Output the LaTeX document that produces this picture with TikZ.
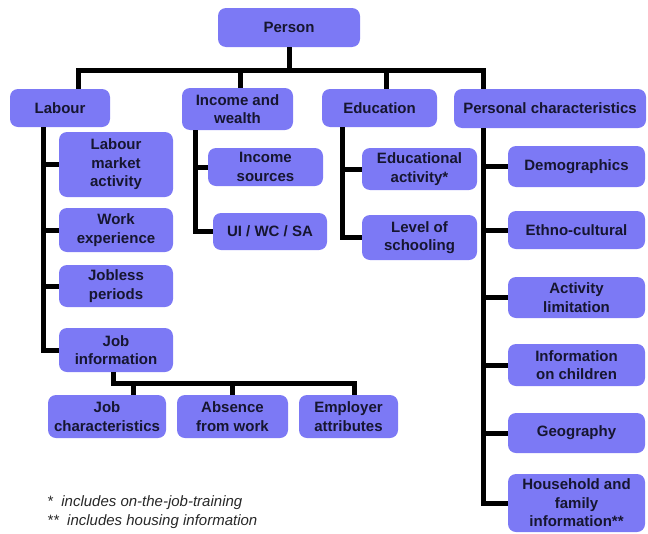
\documentclass[tikz,border=0pt]{standalone}
\usepackage{fontspec}
\setmainfont{Liberation Sans}
\definecolor{boxfill}{RGB}{124,121,245}
\definecolor{boxtext}{RGB}{22,22,48}
\definecolor{notetext}{RGB}{40,40,40}
\tikzset{
  box/.style={fill=boxfill, rounded corners=8pt, inner sep=0pt, align=center,
    text=boxtext, font=\fontsize{15}{18.5}\selectfont\bfseries},
  conn/.style={line width=5pt, black},
  note/.style={anchor=west, inner sep=0pt, text=notetext, font=\fontsize{15}{17}\selectfont\itshape}
}
\begin{document}
\begin{tikzpicture}[x=1pt,y=-1pt]
\useasboundingbox (0,0) rectangle (648,533);
% top level
\node[box, minimum width=142pt, minimum height=39pt] (person) at (289,27.5) {Person};
\node[box, minimum width=100pt, minimum height=38pt] (labour) at (60,108) {Labour};
\node[box, minimum width=111pt, minimum height=42pt] (income) at (237.5,109) {Income and\\wealth};
\node[box, minimum width=115pt, minimum height=38pt] (edu) at (379.5,108) {Education};
\node[box, minimum width=192pt, minimum height=39pt] (pc) at (550,108.5) {Personal characteristics};
% labour children
\node[box, minimum width=114pt, minimum height=65pt] (lma) at (116,164.5) {Labour\\market\\activity};
\node[box, minimum width=114pt, minimum height=44pt] (work) at (116,230) {Work\\experience};
\node[box, minimum width=114pt, minimum height=42pt] (jobless) at (116,286) {Jobless\\periods};
\node[box, minimum width=114pt, minimum height=44pt] (jobinfo) at (116,350) {Job\\information};
% job info children
\node[box, minimum width=118pt, minimum height=43pt] (jobchar) at (107,416.5) {Job\\characteristics};
\node[box, minimum width=111pt, minimum height=43pt] (absence) at (232.5,416.5) {Absence\\from work};
\node[box, minimum width=99pt, minimum height=43pt] (employer) at (348.5,416.5) {Employer\\attributes};
% income children
\node[box, minimum width=115pt, minimum height=38pt] (incsrc) at (265.5,167) {Income\\sources};
\node[box, minimum width=114pt, minimum height=37pt] (ui) at (270,231.5) {UI / WC / SA};
% education children
\node[box, minimum width=115pt, minimum height=42pt] (eduact) at (419.5,169) {Educational\\activity*};
\node[box, minimum width=115pt, minimum height=45pt] (level) at (419.5,237.5) {Level of\\schooling};
% personal characteristics children
\node[box, minimum width=137pt, minimum height=41pt] (demo) at (576.5,166.5) {Demographics};
\node[box, minimum width=137pt, minimum height=38pt] (ethno) at (576.5,230) {Ethno-cultural};
\node[box, minimum width=137pt, minimum height=41pt] (actlim) at (576.5,297.5) {Activity\\limitation};
\node[box, minimum width=137pt, minimum height=42pt] (infochild) at (576.5,365) {Information\\on children};
\node[box, minimum width=137pt, minimum height=40pt] (geo) at (576.5,433) {Geography};
\node[box, minimum width=137pt, minimum height=58pt] (household) at (576.5,503) {Household and\\family\\information**};
% coordinates
\coordinate (busL) at (78,70);
\coordinate (busR) at (483,70);
\coordinate (dInc) at (240,70);
\coordinate (dEdu) at (386,70);
\coordinate (lsp) at (43,0);
\coordinate (isp) at (195,0);
\coordinate (esp) at (342,0);
\coordinate (psp) at (483,0);
\coordinate (jb) at (113,383);
\coordinate (j1) at (133,0);
\coordinate (j2) at (232,0);
\coordinate (j3) at (354,0);
% top bus
\draw[conn] (person.south) -- (person.south |- busL);
\draw[conn] (labour.north -| busL) -- (busL) -- (busR) -- (pc.north -| busR);
\draw[conn] (dInc) -- (income.north -| dInc);
\draw[conn] (dEdu) -- (edu.north -| dEdu);
% labour spine
\draw[conn] (labour.south -| lsp) |- (jobinfo.west);
\draw[conn] (lma.west -| lsp) -- (lma.west);
\draw[conn] (work.west -| lsp) -- (work.west);
\draw[conn] (jobless.west -| lsp) -- (jobless.west);
% job info
\draw[conn] (jobinfo.south -| jb) -- (jb) -- (jb -| j3) -- (employer.north -| j3);
\draw[conn] (jb -| j1) -- (jobchar.north -| j1);
\draw[conn] (jb -| j2) -- (absence.north -| j2);
% income spine
\draw[conn] (income.south -| isp) |- (ui.west);
\draw[conn] (incsrc.west -| isp) -- (incsrc.west);
% education spine
\draw[conn] (edu.south -| esp) |- (level.west);
\draw[conn] (eduact.west -| esp) -- (eduact.west);
% personal characteristics spine
\draw[conn] (pc.south -| psp) |- (household.west);
\draw[conn] (demo.west -| psp) -- (demo.west);
\draw[conn] (ethno.west -| psp) -- (ethno.west);
\draw[conn] (actlim.west -| psp) -- (actlim.west);
\draw[conn] (infochild.west -| psp) -- (infochild.west);
\draw[conn] (geo.west -| psp) -- (geo.west);
% footnotes
\node[note] (n1) at (47,503) {*\ \ includes on-the-job-training};
\node[note] (n2) at (47,522) {**\ \ includes housing information};
\end{tikzpicture}
\end{document}
